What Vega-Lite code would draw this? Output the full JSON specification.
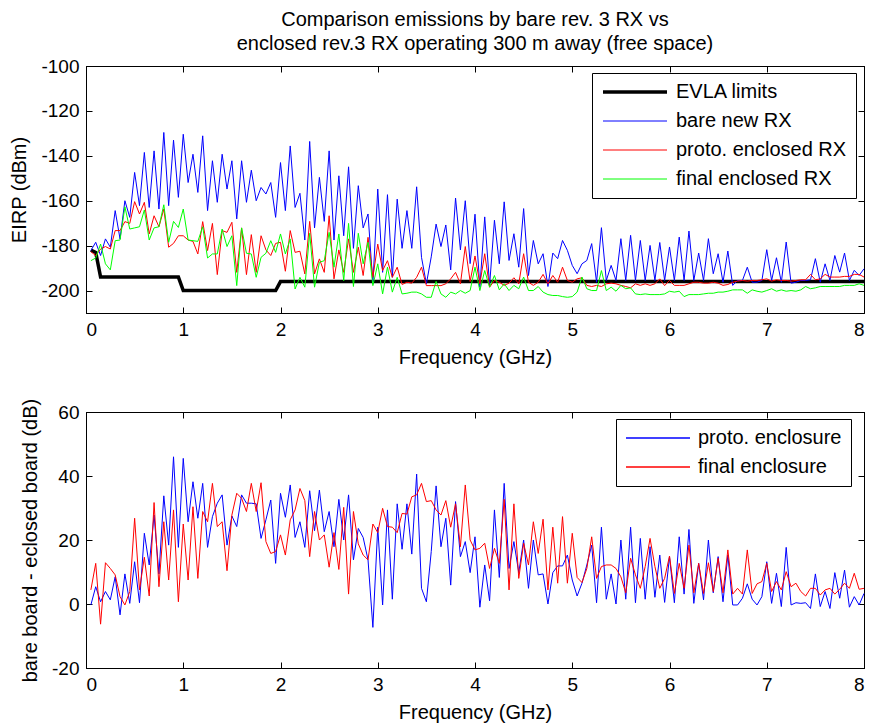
{
"$schema": "https://vega.github.io/schema/vega-lite/v6.json",
"padding": {"left": 8, "top": 9, "right": 5, "bottom": 5},
"datasets": {
"top": [
{"f":0.05,"s1":-182,"s2":-182.2,"s3":-182.7,"s4":-186.7},
{"f":0.10,"s1":-183,"s2":-178.5,"s3":-184.4,"s4":-185.5},
{"f":0.15,"s1":-194,"s2":-184.4,"s3":-181.5,"s4":-179.3},
{"f":0.20,"s2":-177,"s3":-180.4,"s4":-188.1},
{"f":0.25,"s2":-180.7,"s3":-181.5,"s4":-190.8},
{"f":0.30,"s2":-164.4,"s3":-173.3,"s4":-177.8},
{"f":0.35,"s2":-177,"s3":-173.3,"s4":-177.5},
{"f":0.40,"s2":-160,"s3":-169.3,"s4":-162.7},
{"f":0.45,"s2":-167.4,"s3":-170.1,"s4":-172.6},
{"f":0.50,"s2":-147.4,"s3":-160.4,"s4":-172.1},
{"f":0.55,"s2":-162.2,"s3":-165.9,"s4":-171.6},
{"f":0.60,"s2":-138.5,"s3":-160.7,"s4":-164.1},
{"f":0.65,"s2":-163,"s3":-174.8,"s4":-177.5},
{"f":0.70,"s2":-137.8,"s3":-166.7,"s4":-172.1},
{"f":0.75,"s2":-163.7,"s3":-171.6,"s4":-171.6},
{"f":0.80,"s2":-129.6,"s3":-163.7,"s4":-161.8},
{"f":0.85,"s2":-162.2,"s3":-180.7,"s4":-178.5},
{"f":0.90,"s2":-133,"s3":-179,"s4":-169.2},
{"f":0.95,"s1":-194,"s2":-158.5,"s3":-175.6,"s4":-171.9},
{"f":1.00,"s1":-200,"s2":-130.4,"s3":-175.6,"s4":-163.7},
{"f":1.05,"s2":-151.9,"s3":-177.5,"s4":-177.5},
{"f":1.10,"s2":-139.3,"s3":-178.1,"s4":-177.8},
{"f":1.15,"s2":-156.3,"s3":-183.7,"s4":-178.1},
{"f":1.20,"s2":-131.1,"s3":-169.3,"s4":-171.6},
{"f":1.25,"s2":-164.4,"s3":-182.2,"s4":-185.5},
{"f":1.30,"s2":-142.2,"s3":-170.1,"s4":-183.7},
{"f":1.35,"s2":-160.7,"s3":-192.9,"s4":-183.7},
{"f":1.40,"s2":-139.3,"s3":-173.3,"s4":-172.6},
{"f":1.45,"s2":-154.8,"s3":-174.1,"s4":-180.4},
{"f":1.50,"s2":-142.2,"s3":-169.6,"s4":-175.6},
{"f":1.55,"s2":-168.1,"s3":-191.9,"s4":-197.8},
{"f":1.60,"s2":-142.2,"s3":-172.1,"s4":-172.1},
{"f":1.65,"s2":-160.7,"s3":-192.9,"s4":-183.4},
{"f":1.70,"s2":-146.4,"s3":-175.1,"s4":-183.7},
{"f":1.75,"s2":-160,"s3":-191.9,"s4":-194.1},
{"f":1.80,"s2":-154.1,"s3":-175.6,"s4":-185.2},
{"f":1.85,"s2":-157,"s3":-181.9,"s4":-183.4},
{"f":1.90,"s2":-151.9,"s3":-184.4,"s4":-177.8},
{"f":1.95,"s1":-200,"s2":-167.4,"s3":-179,"s4":-183},
{"f":2.00,"s1":-196,"s2":-143,"s3":-178.5,"s4":-174.8},
{"f":2.05,"s2":-164.4,"s3":-191.4,"s4":-183.7},
{"f":2.10,"s2":-135.6,"s3":-173.3,"s4":-177},
{"f":2.15,"s2":-163,"s3":-183,"s4":-199.3},
{"f":2.20,"s2":-156.7,"s3":-182.5,"s4":-194.1},
{"f":2.25,"s2":-177.5,"s3":-192.6,"s4":-198.5},
{"f":2.30,"s2":-133.6,"s3":-169.2,"s4":-174.5},
{"f":2.35,"s2":-172.1,"s3":-192.6,"s4":-198.5},
{"f":2.40,"s2":-149.6,"s3":-185.9,"s4":-187.4},
{"f":2.45,"s2":-169.2,"s3":-191.9,"s4":-186.7},
{"f":2.50,"s2":-137.8,"s3":-166.7,"s4":-174.1},
{"f":2.55,"s2":-177.5,"s3":-194.8,"s4":-189.6},
{"f":2.60,"s2":-148.9,"s3":-181.9,"s4":-174.8},
{"f":2.65,"s2":-175.6,"s3":-191.9,"s4":-195.6},
{"f":2.70,"s2":-144.9,"s3":-177,"s4":-170.1},
{"f":2.75,"s2":-181.2,"s3":-191.9,"s4":-198.2},
{"f":2.80,"s2":-153.3,"s3":-180.7,"s4":-174.5},
{"f":2.85,"s2":-172.1,"s3":-193.3,"s4":-188.1},
{"f":2.90,"s2":-165.9,"s3":-176.3,"s4":-178.5},
{"f":2.95,"s2":-197,"s3":-194.1,"s4":-197.8},
{"f":3.00,"s2":-154.8,"s3":-179.3,"s4":-188.1},
{"f":3.05,"s2":-191.9,"s3":-191.1,"s4":-201.5},
{"f":3.10,"s2":-157.3,"s3":-186.7,"s4":-189.6},
{"f":3.15,"s2":-194.1,"s3":-194.1,"s4":-200.7},
{"f":3.20,"s2":-159.3,"s3":-189.6,"s4":-194.1},
{"f":3.25,"s2":-181.2,"s3":-197.3,"s4":-201.5},
{"f":3.30,"s2":-164.4,"s3":-196.3,"s4":-201.2},
{"f":3.35,"s2":-181.2,"s3":-196.7,"s4":-200.7},
{"f":3.40,"s2":-153.8,"s3":-194.1,"s4":-200.7},
{"f":3.45,"s2":-185.2,"s3":-189.6,"s4":-201.5},
{"f":3.50,"s2":-197,"s3":-197.8,"s4":-203},
{"f":3.55,"s2":-185,"s3":-197.8,"s4":-203},
{"f":3.60,"s2":-170.4,"s3":-197.8,"s4":-195.9},
{"f":3.65,"s2":-180.4,"s3":-197.8,"s4":-201.5},
{"f":3.70,"s2":-170.8,"s3":-197,"s4":-203},
{"f":3.75,"s2":-190.8,"s3":-194.8,"s4":-200.7},
{"f":3.80,"s2":-158.8,"s3":-191.9,"s4":-201.5},
{"f":3.85,"s2":-181.9,"s3":-197,"s4":-200},
{"f":3.90,"s2":-160,"s3":-180.4,"s4":-201.2},
{"f":3.95,"s2":-188,"s3":-196,"s4":-200},
{"f":4.00,"s2":-166,"s3":-184.6,"s4":-189.6},
{"f":4.05,"s2":-198.5,"s3":-197,"s4":-200},
{"f":4.10,"s2":-167.2,"s3":-183.6,"s4":-191.1},
{"f":4.15,"s2":-197.7,"s3":-198.5,"s4":-198.5},
{"f":4.20,"s2":-168.7,"s3":-195.5,"s4":-193.3},
{"f":4.25,"s2":-188.1,"s3":-196.3,"s4":-199.7},
{"f":4.30,"s2":-160.5,"s3":-197.7,"s4":-197},
{"f":4.35,"s2":-186.6,"s3":-196.7,"s4":-200},
{"f":4.40,"s2":-174.7,"s3":-194.3,"s4":-197.7},
{"f":4.45,"s2":-189.6,"s3":-197,"s4":-199.2},
{"f":4.50,"s2":-163.5,"s3":-183.6,"s4":-194},
{"f":4.55,"s2":-193.3,"s3":-196.3,"s4":-200},
{"f":4.60,"s2":-177.7,"s3":-197.7,"s4":-200},
{"f":4.65,"s2":-188.1,"s3":-196.3,"s4":-198.2},
{"f":4.70,"s2":-183.6,"s3":-192.8,"s4":-200.7},
{"f":4.75,"s2":-198.2,"s3":-197,"s4":-201.8},
{"f":4.80,"s2":-183.3,"s3":-193.3,"s4":-202.2},
{"f":4.85,"s2":-185.8,"s3":-196.3,"s4":-202.2},
{"f":4.90,"s2":-177.7,"s3":-189.6,"s4":-202.7},
{"f":4.95,"s2":-182.1,"s3":-195.5,"s4":-203},
{"f":5.00,"s2":-188.8,"s3":-196.3,"s4":-202.7},
{"f":5.05,"s2":-192.5,"s3":-194.8,"s4":-200.7},
{"f":5.10,"s2":-188.1,"s3":-194.3,"s4":-194},
{"f":5.15,"s2":-186.6,"s3":-197.7,"s4":-199.2},
{"f":5.20,"s2":-179.1,"s3":-198.2,"s4":-200},
{"f":5.25,"s2":-196.3,"s3":-197.7,"s4":-200},
{"f":5.30,"s2":-172,"s3":-198.2,"s4":-191.1},
{"f":5.35,"s2":-195.5,"s3":-197,"s4":-200},
{"f":5.40,"s2":-188.8,"s3":-196.7,"s4":-198.5},
{"f":5.45,"s2":-195.5,"s3":-197,"s4":-200.3},
{"f":5.50,"s2":-176.9,"s3":-197.7,"s4":-197.7},
{"f":5.55,"s2":-195.5,"s3":-198.2,"s4":-199.2},
{"f":5.60,"s2":-175.4,"s3":-198.8,"s4":-198.8},
{"f":5.65,"s2":-195.5,"s3":-197,"s4":-201.5},
{"f":5.70,"s2":-177.7,"s3":-197.7,"s4":-201.8},
{"f":5.75,"s2":-195.5,"s3":-197,"s4":-201.5},
{"f":5.80,"s2":-179.9,"s3":-197.7,"s4":-201.8},
{"f":5.85,"s2":-195.5,"s3":-197,"s4":-201.8},
{"f":5.90,"s2":-178.6,"s3":-194.8,"s4":-201.8},
{"f":5.95,"s2":-195.5,"s3":-197.8,"s4":-201.5},
{"f":6.00,"s2":-180.6,"s3":-195.5,"s4":-200.3},
{"f":6.05,"s2":-195.5,"s3":-197.7,"s4":-200.7},
{"f":6.10,"s2":-176.2,"s3":-197.7,"s4":-200.3},
{"f":6.15,"s2":-195.5,"s3":-197.7,"s4":-202.7},
{"f":6.20,"s2":-173.5,"s3":-197,"s4":-201.8},
{"f":6.25,"s2":-195.5,"s3":-196.3,"s4":-201.8},
{"f":6.30,"s2":-183.3,"s3":-196.3,"s4":-201.8},
{"f":6.35,"s2":-195.5,"s3":-196.7,"s4":-201.5},
{"f":6.40,"s2":-176.9,"s3":-196.7,"s4":-201.2},
{"f":6.45,"s2":-192.5,"s3":-196.3,"s4":-201.2},
{"f":6.50,"s2":-183.6,"s3":-196.7,"s4":-200.7},
{"f":6.55,"s2":-196.3,"s3":-197.7,"s4":-200.7},
{"f":6.60,"s2":-182.4,"s3":-197.3,"s4":-200.3},
{"f":6.65,"s2":-197.7,"s3":-196.3,"s4":-199.7},
{"f":6.70,"s2":-195.5,"s3":-195.8,"s4":-199.7},
{"f":6.75,"s2":-195.5,"s3":-195.5,"s4":-199.7},
{"f":6.80,"s2":-189.6,"s3":-195.8,"s4":-201.2},
{"f":6.85,"s2":-196.3,"s3":-195.5,"s4":-199.7},
{"f":6.90,"s2":-196.3,"s3":-195.5,"s4":-200.3},
{"f":6.95,"s2":-195.5,"s3":-195.2,"s4":-200.7},
{"f":7.00,"s2":-181.8,"s3":-194.8,"s4":-200},
{"f":7.05,"s2":-195.5,"s3":-195.8,"s4":-199.2},
{"f":7.10,"s2":-185.4,"s3":-195.2,"s4":-200.3},
{"f":7.15,"s2":-196.3,"s3":-195.5,"s4":-199.7},
{"f":7.20,"s2":-178.4,"s3":-195.5,"s4":-200.3},
{"f":7.25,"s2":-196.7,"s3":-195.8,"s4":-200},
{"f":7.30,"s2":-196.3,"s3":-195.5,"s4":-200.3},
{"f":7.35,"s2":-195.5,"s3":-195.2,"s4":-199.7},
{"f":7.40,"s2":-195.5,"s3":-195.2,"s4":-198.2},
{"f":7.45,"s2":-195.2,"s3":-192.8,"s4":-199.2},
{"f":7.50,"s2":-185.8,"s3":-195.2,"s4":-198.8},
{"f":7.55,"s2":-196.3,"s3":-194.8,"s4":-198.2},
{"f":7.60,"s2":-188.1,"s3":-192.8,"s4":-198.2},
{"f":7.65,"s2":-195.5,"s3":-194,"s4":-198.2},
{"f":7.70,"s2":-184.4,"s3":-194,"s4":-198.2},
{"f":7.75,"s2":-191.8,"s3":-194,"s4":-198.2},
{"f":7.80,"s2":-183.3,"s3":-193.7,"s4":-197.7},
{"f":7.85,"s2":-195.5,"s3":-193.7,"s4":-197.7},
{"f":7.90,"s2":-191,"s3":-192.8,"s4":-197.7},
{"f":7.95,"s2":-193.3,"s3":-192.8,"s4":-197},
{"f":8.00,"s1":-196,"s2":-190.3,"s3":-194,"s4":-197.7}
],
"bot": [
{"f":0.05,"t1":-0.3,"t2":4.4},
{"f":0.10,"t1":5.4,"t2":12.7},
{"f":0.15,"t1":0.7,"t2":-6.3},
{"f":0.20,"t1":3.9,"t2":12.9},
{"f":0.25,"t1":1.3,"t2":11.1},
{"f":0.30,"t1":8.5,"t2":9.1},
{"f":0.35,"t1":-3.4,"t2":2.3},
{"f":0.40,"t1":9.4,"t2":-0.3},
{"f":0.45,"t1":0.2,"t2":3.9},
{"f":0.50,"t1":13.2,"t2":26.8},
{"f":0.55,"t1":0.4,"t2":4.4},
{"f":0.60,"t1":22.1,"t2":14.6},
{"f":0.65,"t1":12.2,"t2":2.5},
{"f":0.70,"t1":27.8,"t2":31.7},
{"f":0.75,"t1":9.4,"t2":5.4},
{"f":0.80,"t1":33.8,"t2":25.7},
{"f":0.85,"t1":18.4,"t2":7.5},
{"f":0.90,"t1":46,"t2":29.4},
{"f":0.95,"t1":17.7,"t2":0.7},
{"f":1.00,"t1":45.5,"t2":25},
{"f":1.05,"t1":25.7,"t2":7.5},
{"f":1.10,"t1":38.2,"t2":30.4},
{"f":1.15,"t1":26.8,"t2":8},
{"f":1.20,"t1":37.7,"t2":28.9},
{"f":1.25,"t1":17.7,"t2":25.7},
{"f":1.30,"t1":27.3,"t2":37.7},
{"f":1.35,"t1":31.5,"t2":24.2},
{"f":1.40,"t1":34.1,"t2":25.7},
{"f":1.45,"t1":18.4,"t2":10.4},
{"f":1.50,"t1":27.5,"t2":27.8},
{"f":1.55,"t1":24.2,"t2":34.6},
{"f":1.60,"t1":34.1,"t2":33},
{"f":1.65,"t1":31.5,"t2":28.9},
{"f":1.70,"t1":31.5,"t2":37.7},
{"f":1.75,"t1":31.3,"t2":28.9},
{"f":1.80,"t1":20.5,"t2":37.9},
{"f":1.85,"t1":26.3,"t2":19.5},
{"f":1.90,"t1":32.5,"t2":15.8},
{"f":1.95,"t1":12.7,"t2":16.4},
{"f":2.00,"t1":34.6,"t2":21.6},
{"f":2.05,"t1":27.1,"t2":15.3},
{"f":2.10,"t1":37.2,"t2":26.3},
{"f":2.15,"t1":20.8,"t2":29.4},
{"f":2.20,"t1":25.7,"t2":36.1},
{"f":2.25,"t1":17.7,"t2":32.3},
{"f":2.30,"t1":35.4,"t2":14.8},
{"f":2.35,"t1":22.9,"t2":28.9},
{"f":2.40,"t1":35.6,"t2":20},
{"f":2.45,"t1":22.6,"t2":21.6},
{"f":2.50,"t1":28.9,"t2":11.5},
{"f":2.55,"t1":17.9,"t2":22.3},
{"f":2.60,"t1":32.7,"t2":10.8},
{"f":2.65,"t1":20,"t2":30.2},
{"f":2.70,"t1":34.1,"t2":3.1},
{"f":2.75,"t1":13.8,"t2":28.9},
{"f":2.80,"t1":23.6,"t2":18.8},
{"f":2.85,"t1":20.8,"t2":15.3},
{"f":2.90,"t1":13.8,"t2":13.8},
{"f":2.95,"t1":-7.3,"t2":25},
{"f":3.00,"t1":24,"t2":22.3},
{"f":3.05,"t1":-0.3,"t2":29.9},
{"f":3.10,"t1":29.4,"t2":24.2},
{"f":3.15,"t1":1.5,"t2":24},
{"f":3.20,"t1":31.3,"t2":22.3},
{"f":3.25,"t1":17.1,"t2":28.3},
{"f":3.30,"t1":31.3,"t2":28.1},
{"f":3.35,"t1":15.6,"t2":33.5},
{"f":3.40,"t1":40.6,"t2":34.1},
{"f":3.45,"t1":4.9,"t2":37.7},
{"f":3.50,"t1":0.7,"t2":32},
{"f":3.55,"t1":16.4,"t2":32.3},
{"f":3.60,"t1":36.9,"t2":29.4},
{"f":3.65,"t1":17.9,"t2":27.8},
{"f":3.70,"t1":26.8,"t2":32.3},
{"f":3.75,"t1":5.9,"t2":24},
{"f":3.80,"t1":32,"t2":31.3},
{"f":3.85,"t1":14.8,"t2":17.9},
{"f":3.90,"t1":19.5,"t2":37.2},
{"f":3.95,"t1":9.8,"t2":20},
{"f":4.00,"t1":21,"t2":16.9},
{"f":4.05,"t1":-1,"t2":17.4},
{"f":4.10,"t1":12.2,"t2":19},
{"f":4.15,"t1":1,"t2":11.1},
{"f":4.20,"t1":29.4,"t2":17.4},
{"f":4.25,"t1":8.3,"t2":12.7},
{"f":4.30,"t1":37.7,"t2":32.7},
{"f":4.35,"t1":11.1,"t2":4.4},
{"f":4.40,"t1":19.5,"t2":31.3},
{"f":4.45,"t1":9.8,"t2":8},
{"f":4.50,"t1":20,"t2":19},
{"f":4.55,"t1":4.9,"t2":12.2},
{"f":4.60,"t1":20,"t2":25.7},
{"f":4.65,"t1":9.1,"t2":15.8},
{"f":4.70,"t1":9.4,"t2":26.5},
{"f":4.75,"t1":0,"t2":4.4},
{"f":4.80,"t1":9.8,"t2":24},
{"f":4.85,"t1":11.9,"t2":6.5},
{"f":4.90,"t1":11.9,"t2":27.3},
{"f":4.95,"t1":15.3,"t2":6.5},
{"f":5.00,"t1":7.5,"t2":22.1},
{"f":5.05,"t1":2.5,"t2":8.3},
{"f":5.10,"t1":6.5,"t2":6.7},
{"f":5.15,"t1":12.2,"t2":11.1},
{"f":5.20,"t1":18.4,"t2":21},
{"f":5.25,"t1":0.4,"t2":8},
{"f":5.30,"t1":24,"t2":11.7},
{"f":5.35,"t1":1.5,"t2":12.2},
{"f":5.40,"t1":9.4,"t2":12.2},
{"f":5.45,"t1":0,"t2":11.1},
{"f":5.50,"t1":20,"t2":8.5},
{"f":5.55,"t1":1.5,"t2":3.5},
{"f":5.60,"t1":24,"t2":14.3},
{"f":5.65,"t1":0.4,"t2":9.1},
{"f":5.70,"t1":20.5,"t2":4.9},
{"f":5.75,"t1":1.5,"t2":11.7},
{"f":5.80,"t1":17.9,"t2":20.5},
{"f":5.85,"t1":2.1,"t2":11.7},
{"f":5.90,"t1":15.3,"t2":4.9},
{"f":5.95,"t1":0.5,"t2":8},
{"f":6.00,"t1":14.8,"t2":15},
{"f":6.05,"t1":0.4,"t2":3.3},
{"f":6.10,"t1":21,"t2":12.7},
{"f":6.15,"t1":3.1,"t2":4.9},
{"f":6.20,"t1":23.3,"t2":18.4},
{"f":6.25,"t1":0.2,"t2":3.5},
{"f":6.30,"t1":12.7,"t2":12.7},
{"f":6.35,"t1":1.3,"t2":3.3},
{"f":6.40,"t1":20,"t2":12.9},
{"f":6.45,"t1":3.5,"t2":3.9},
{"f":6.50,"t1":14.8,"t2":14.3},
{"f":6.55,"t1":0.7,"t2":3.5},
{"f":6.60,"t1":15.3,"t2":16.9},
{"f":6.65,"t1":-0.3,"t2":3.1},
{"f":6.70,"t1":-0.3,"t2":4.9},
{"f":6.75,"t1":1.8,"t2":3.1},
{"f":6.80,"t1":6.3,"t2":16.9},
{"f":6.85,"t1":1.5,"t2":3.3},
{"f":6.90,"t1":-0.3,"t2":6.3},
{"f":6.95,"t1":2.3,"t2":7},
{"f":7.00,"t1":13.2,"t2":12.7},
{"f":7.05,"t1":0.2,"t2":3.9},
{"f":7.10,"t1":9.6,"t2":7},
{"f":7.15,"t1":-0.8,"t2":4.4},
{"f":7.20,"t1":17.7,"t2":10.1},
{"f":7.25,"t1":-0.3,"t2":5.4},
{"f":7.30,"t1":0.4,"t2":6.5},
{"f":7.35,"t1":0.2,"t2":3.9},
{"f":7.40,"t1":0.4,"t2":2.5},
{"f":7.45,"t1":-1.4,"t2":4.9},
{"f":7.50,"t1":9.4,"t2":4.9},
{"f":7.55,"t1":-0.8,"t2":2.8},
{"f":7.60,"t1":3.9,"t2":4.4},
{"f":7.65,"t1":-1.4,"t2":4.9},
{"f":7.70,"t1":9.8,"t2":3.1},
{"f":7.75,"t1":1.8,"t2":4.6},
{"f":7.80,"t1":10.6,"t2":6.5},
{"f":7.85,"t1":-1,"t2":4.9},
{"f":7.90,"t1":2.3,"t2":9.6},
{"f":7.95,"t1":-0.3,"t2":4.6},
{"f":8.00,"t1":3.3,"t2":4.9}
]
},
"vconcat": [
{
"width": 778, "height": 247,
"title": {"text": ["Comparison emissions by bare rev. 3 RX vs", "enclosed rev.3 RX operating 300 m away (free space)"], "anchor": "middle", "lineHeight": 24, "offset": 3},
"data": {"name": "top"},
"transform": [{"fold": ["s1","s2","s3","s4"], "as": ["s","v"]}],
"layer": [
{
"mark": {"type": "line", "invalid": "filter"},
"encoding": {
"x": {"field": "f", "type": "quantitative", "scale": {"domain": [0, 8], "nice": false}, "axis": {"values": [0,1,2,3,4,5,6,7,8], "title": "Frequency (GHz)", "labelExpr": "datum.value + ''"}},
"y": {"field": "v", "type": "quantitative", "scale": {"domain": [-210, -100], "nice": false, "zero": false}, "axis": {"values": [-200,-180,-160,-140,-120,-100], "title": "EIRP (dBm)", "titleX": -67, "titleBaseline": "middle", "labelExpr": "datum.value + ''"}},
"color": {"field": "s", "type": "nominal", "scale": {"domain": ["s1","s2","s3","s4"], "range": ["#000000","#0000ff","#ff0000","#00ff00"]}, "legend": {"title": null, "orient": "none", "legendX": 506, "legendY": 7, "labelLimit": 400, "labelExpr": "datum.label == 's1' ? 'EVLA limits' : datum.label == 's2' ? 'bare new RX' : datum.label == 's3' ? 'proto. enclosed RX' : 'final enclosed RX'"}},
"strokeWidth": {"field": "s", "type": "nominal", "scale": {"type": "ordinal", "domain": ["s1","s2","s3","s4"], "range": [3.5,1,1,1]}, "legend": {"title": null, "orient": "none", "legendX": 506, "legendY": 7, "labelLimit": 400, "labelExpr": "datum.label == 's1' ? 'EVLA limits' : datum.label == 's2' ? 'bare new RX' : datum.label == 's3' ? 'proto. enclosed RX' : 'final enclosed RX'"}}
}
},
{
"mark": {"type": "line", "opacity": 0, "invalid": "filter"},
"encoding": {
"x": {"field": "f", "type": "quantitative", "axis": {"orient": "top", "values": [0,1,2,3,4,5,6,7,8], "labels": false, "title": null}},
"y": {"field": "v", "type": "quantitative", "axis": {"orient": "right", "values": [-200,-180,-160,-140,-120,-100], "labels": false, "title": null}}
}
}
],
"resolve": {"axis": {"x": "independent", "y": "independent"}}
},
{
"width": 778, "height": 256,
"data": {"name": "bot"},
"transform": [{"fold": ["t1","t2"], "as": ["t","v"]}],
"layer": [
{
"mark": {"type": "line", "strokeWidth": 1},
"encoding": {
"x": {"field": "f", "type": "quantitative", "scale": {"domain": [0, 8], "nice": false}, "axis": {"values": [0,1,2,3,4,5,6,7,8], "title": "Frequency (GHz)", "labelExpr": "datum.value + ''"}},
"y": {"field": "v", "type": "quantitative", "scale": {"domain": [-20, 60], "nice": false, "zero": false}, "axis": {"values": [-20,0,20,40,60], "title": "bare board - eclosed board (dB)", "titleX": -56, "titleBaseline": "middle", "labelExpr": "datum.value + ''"}},
"color": {"field": "t", "type": "nominal", "scale": {"domain": ["t1","t2"], "range": ["#0000ff","#ff0000"]}, "legend": {"title": null, "orient": "none", "legendX": 530, "legendY": 7, "labelLimit": 400, "labelExpr": "datum.label == 't1' ? 'proto. enclosure' : 'final enclosure'"}}
}
},
{
"mark": {"type": "line", "opacity": 0},
"encoding": {
"x": {"field": "f", "type": "quantitative", "axis": {"orient": "top", "values": [0,1,2,3,4,5,6,7,8], "labels": false, "title": null}},
"y": {"field": "v", "type": "quantitative", "axis": {"orient": "right", "values": [-20,0,20,40,60], "labels": false, "title": null}}
}
}
],
"resolve": {"axis": {"x": "independent", "y": "independent"}}
}
],
"spacing": 29,
"resolve": {"scale": {"color": "independent", "strokeWidth": "independent"}, "legend": {"color": "independent", "strokeWidth": "independent"}},
"config": {
"font": "Liberation Sans",
"view": {"stroke": "#000000", "strokeWidth": 1},
"axis": {"grid": false, "domainColor": "#000000", "tickColor": "#000000", "labelColor": "#000000", "titleColor": "#000000", "labelFontSize": 19, "titleFontSize": 20, "titleFontWeight": "normal", "tickSize": -6, "labelPadding": 13, "titlePadding": 8, "domainWidth": 1, "tickWidth": 1, "labelFont": "Liberation Sans", "titleFont": "Liberation Sans"},
"legend": {"strokeColor": "#000000", "fillColor": "#ffffff", "padding": 9, "labelFontSize": 20, "labelColor": "#000000", "labelFont": "Liberation Sans", "symbolType": "stroke", "symbolSize": 4096, "labelOffset": 7, "rowPadding": 9, "clipHeight": 20},
"title": {"font": "Liberation Sans", "fontSize": 20, "fontWeight": "normal", "color": "#000000"}
}
}
